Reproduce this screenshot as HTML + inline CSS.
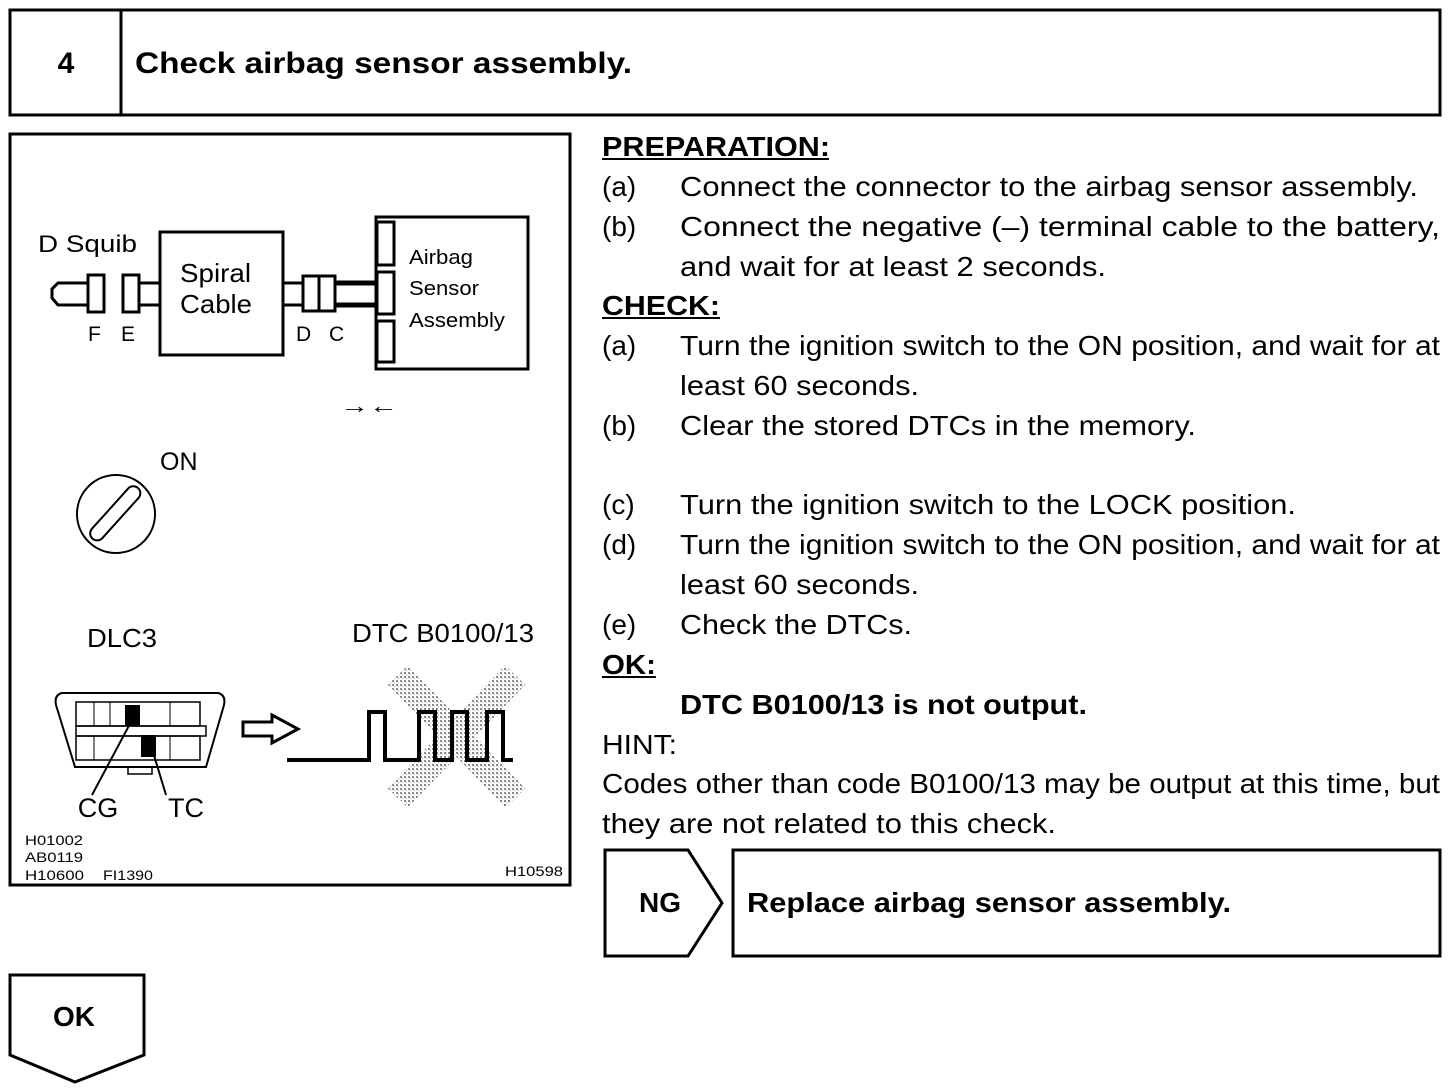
<!DOCTYPE html>
<html><head><meta charset="utf-8"><style>
html,body{margin:0;padding:0;background:#fff}
svg{display:block}
text{font-family:"Liberation Sans",Arial,sans-serif;fill:#000}
.t{font-size:28px}
.b{font-weight:bold}
</style></head><body>
<svg width="1456" height="1092" viewBox="0 0 1456 1092" xmlns="http://www.w3.org/2000/svg">
<defs>
<pattern id="st" width="4" height="4" patternUnits="userSpaceOnUse"><rect width="4" height="4" fill="#fff"/><rect width="2" height="2" fill="#888"/><rect x="2" y="2" width="1" height="1" fill="#aaa"/></pattern>
</defs>
<!-- header -->
<rect x="10" y="10" width="1430" height="105" fill="none" stroke="#000" stroke-width="3"/>
<line x1="121" y1="10" x2="121" y2="115" stroke="#000" stroke-width="3"/>
<text x="66" y="73" class="b" font-size="30" text-anchor="middle">4</text>
<text x="135" y="73" class="b" font-size="30" textLength="497" lengthAdjust="spacingAndGlyphs">Check airbag sensor assembly.</text>

<!-- diagram box -->
<rect x="10" y="134" width="560" height="751" fill="none" stroke="#000" stroke-width="3"/>
<text x="38" y="252" font-size="24" textLength="99" lengthAdjust="spacingAndGlyphs">D Squib</text>
<rect x="160" y="232" width="123" height="123" fill="none" stroke="#000" stroke-width="3"/>
<text x="180" y="282" font-size="26" textLength="71" lengthAdjust="spacingAndGlyphs">Spiral</text>
<text x="180" y="313" font-size="26" textLength="72" lengthAdjust="spacingAndGlyphs">Cable</text>
<rect x="376" y="217" width="152" height="152" fill="none" stroke="#000" stroke-width="3"/>
<rect x="377" y="222" width="17" height="43" fill="#fff" stroke="#000" stroke-width="3"/>
<rect x="377" y="272" width="17" height="42" fill="#fff" stroke="#000" stroke-width="3"/>
<rect x="377" y="321" width="17" height="41" fill="#fff" stroke="#000" stroke-width="3"/>
<text x="409" y="264" font-size="20" textLength="64" lengthAdjust="spacingAndGlyphs">Airbag</text>
<text x="409" y="295" font-size="20" textLength="70" lengthAdjust="spacingAndGlyphs">Sensor</text>
<text x="409" y="327" font-size="20" textLength="96" lengthAdjust="spacingAndGlyphs">Assembly</text>
<rect x="88" y="275" width="16" height="37" fill="none" stroke="#000" stroke-width="3"/>
<rect x="123" y="275" width="16" height="37" fill="none" stroke="#000" stroke-width="3"/>
<path d="M88,283 H58 L52,289 V298 L58,305 H88" fill="none" stroke="#000" stroke-width="3"/>
<path d="M139,283 H160 M139,305 H160 M283,283 H303 M283,305 H303" stroke="#000" stroke-width="3"/>
<rect x="303" y="276" width="32" height="35" fill="none" stroke="#000" stroke-width="3"/>
<line x1="319" y1="276" x2="319" y2="311" stroke="#000" stroke-width="3"/>
<path d="M335,283 H376 M335,305 H376" stroke="#000" stroke-width="5"/>
<text x="88" y="341" font-size="21">F</text><text x="121" y="341" font-size="21">E</text>
<text x="296" y="341" font-size="21">D</text><text x="329" y="341" font-size="21">C</text>
<text x="340" y="413" font-size="22" textLength="58" lengthAdjust="spacingAndGlyphs">→←</text>
<text x="160" y="470" font-size="25">ON</text>
<circle cx="116" cy="514" r="39" fill="none" stroke="#000" stroke-width="2"/>
<rect x="82" y="506" width="68" height="14" rx="7" transform="rotate(-48 116 514)" fill="none" stroke="#000" stroke-width="2"/>
<text x="122" y="647" font-size="26" text-anchor="middle" textLength="70" lengthAdjust="spacingAndGlyphs">DLC3</text>
<text x="352" y="642" font-size="26" textLength="182" lengthAdjust="spacingAndGlyphs">DTC B0100/13</text>
<!-- connector -->
<path d="M62,693 H218 Q226,695 224,705 L206,767 H75 L56,705 Q54,695 62,693 Z" fill="none" stroke="#000" stroke-width="2"/>
<rect x="76" y="702" width="124" height="24" fill="none" stroke="#000" stroke-width="1.5"/>
<rect x="76" y="736" width="124" height="24" fill="none" stroke="#000" stroke-width="1.5"/>
<path d="M94,702 V726 M110,702 V726 M170,702 V726 M94,736 V760 M170,736 V760" stroke="#000" stroke-width="1"/>
<rect x="76" y="726" width="130" height="10" fill="none" stroke="#000" stroke-width="1.5"/>
<rect x="125" y="705" width="15" height="21" fill="#000"/>
<rect x="141" y="735" width="15" height="22" fill="#000"/>
<rect x="128" y="767" width="24" height="7" fill="none" stroke="#000" stroke-width="1.5"/>
<path d="M132,720 L92,795 M153,752 L166,795" stroke="#000" stroke-width="2"/>
<text x="98" y="817" font-size="27" text-anchor="middle">CG</text>
<text x="186" y="817" font-size="27" text-anchor="middle">TC</text>
<path d="M243,722 H272 V715 L298,729 L272,743 V736 H243 Z" fill="none" stroke="#000" stroke-width="3"/>
<path d="M398,675 L515,798 M515,675 L398,798" stroke="url(#st)" stroke-width="28"/>
<path d="M287,760 H369 V712 H385 V760 H419 V712 H435 V760 H452 V712 H467 V760 H487 V712 H503 V760 H513" fill="none" stroke="#000" stroke-width="4"/>
<text x="25" y="845" font-size="14" textLength="58" lengthAdjust="spacingAndGlyphs">H01002</text>
<text x="25" y="862" font-size="14" textLength="58" lengthAdjust="spacingAndGlyphs">AB0119</text>
<text x="25" y="880" font-size="14" textLength="59" lengthAdjust="spacingAndGlyphs">H10600</text>
<text x="103" y="880" font-size="14" textLength="50" lengthAdjust="spacingAndGlyphs">FI1390</text>
<text x="505" y="876" font-size="14" textLength="58" lengthAdjust="spacingAndGlyphs">H10598</text>

<!-- right text -->
<g class="t">
<text x="602" y="156" class="b" textLength="228" lengthAdjust="spacingAndGlyphs">PREPARATION:</text>
<line x1="602" y1="159" x2="829" y2="159" stroke="#000" stroke-width="2"/>
<text x="602" y="196">(a)</text><text x="680" y="196" textLength="738" lengthAdjust="spacingAndGlyphs">Connect the connector to the airbag sensor assembly.</text>
<text x="602" y="236">(b)</text><text x="680" y="236" textLength="760" lengthAdjust="spacingAndGlyphs">Connect the negative (–) terminal cable to the battery,</text>
<text x="680" y="276" textLength="426" lengthAdjust="spacingAndGlyphs">and wait for at least 2 seconds.</text>
<text x="602" y="315" class="b" textLength="118" lengthAdjust="spacingAndGlyphs">CHECK:</text>
<line x1="602" y1="318" x2="720" y2="318" stroke="#000" stroke-width="2"/>
<text x="602" y="355">(a)</text><text x="680" y="355" textLength="760" lengthAdjust="spacingAndGlyphs">Turn the ignition switch to the ON position, and wait for at</text>
<text x="680" y="395" textLength="239" lengthAdjust="spacingAndGlyphs">least 60 seconds.</text>
<text x="602" y="435">(b)</text><text x="680" y="435" textLength="516" lengthAdjust="spacingAndGlyphs">Clear the stored DTCs in the memory.</text>
<text x="602" y="514">(c)</text><text x="680" y="514" textLength="616" lengthAdjust="spacingAndGlyphs">Turn the ignition switch to the LOCK position.</text>
<text x="602" y="554">(d)</text><text x="680" y="554" textLength="760" lengthAdjust="spacingAndGlyphs">Turn the ignition switch to the ON position, and wait for at</text>
<text x="680" y="594" textLength="239" lengthAdjust="spacingAndGlyphs">least 60 seconds.</text>
<text x="602" y="634">(e)</text><text x="680" y="634" textLength="232" lengthAdjust="spacingAndGlyphs">Check the DTCs.</text>
<text x="602" y="674" class="b" textLength="54" lengthAdjust="spacingAndGlyphs">OK:</text>
<line x1="602" y1="677" x2="656" y2="677" stroke="#000" stroke-width="2"/>
<text x="680" y="714" class="b" textLength="407" lengthAdjust="spacingAndGlyphs">DTC B0100/13 is not output.</text>
<text x="602" y="754" textLength="75" lengthAdjust="spacingAndGlyphs">HINT:</text>
<text x="602" y="793" textLength="838" lengthAdjust="spacingAndGlyphs">Codes other than code B0100/13 may be output at this time, but</text>
<text x="602" y="833" textLength="454" lengthAdjust="spacingAndGlyphs">they are not related to this check.</text>
</g>

<!-- NG -->
<path d="M605,850 H688 L722,903 L688,956 H605 Z" fill="none" stroke="#000" stroke-width="3"/>
<text x="660" y="912" class="b" font-size="28" text-anchor="middle">NG</text>
<rect x="733" y="850" width="707" height="106" fill="none" stroke="#000" stroke-width="3"/>
<text x="747" y="912" class="b" font-size="28" textLength="484" lengthAdjust="spacingAndGlyphs">Replace airbag sensor assembly.</text>

<!-- OK -->
<path d="M10,975 H144 V1055 L75,1082 L10,1055 Z" fill="none" stroke="#000" stroke-width="3"/>
<text x="74" y="1026" class="b" font-size="28" text-anchor="middle">OK</text>
</svg>
</body></html>
